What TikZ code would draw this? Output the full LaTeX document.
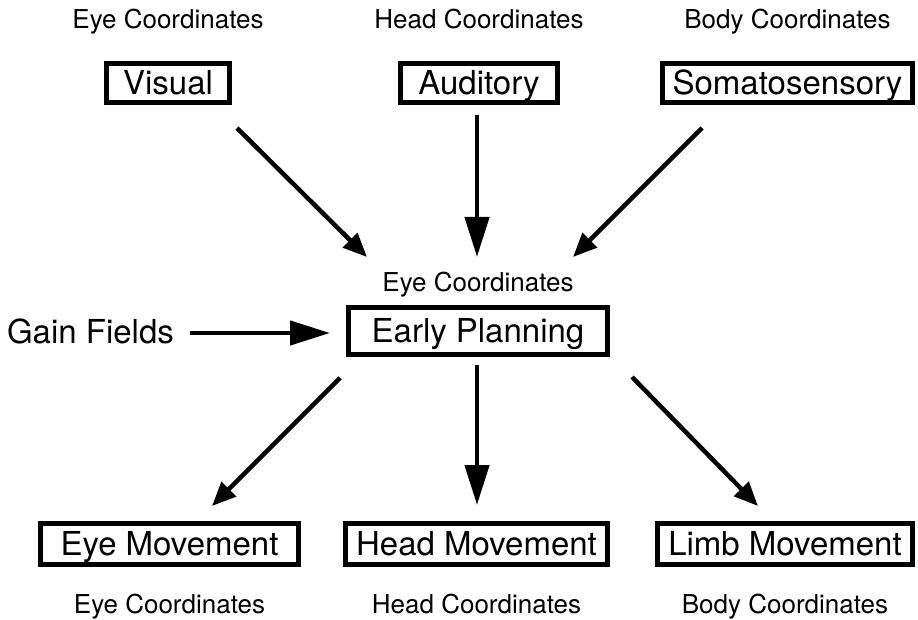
\documentclass[tikz,border=0pt]{standalone}
\usepackage{fontspec}
\setmainfont{TeX Gyre Heros}
\usetikzlibrary{arrows.meta,positioning,calc}

\begin{document}
\begin{tikzpicture}[x=1pt, y=-1pt,
  area/.style={draw, line width=5pt, inner sep=0pt, minimum height=39pt, align=center, font=\fontsize{33}{38}\selectfont, text height=23.5pt, text depth=0pt},
  coord/.style={inner sep=0pt, font=\fontsize{26}{31}\selectfont, text height=18.5pt, text depth=0pt},
  arr/.style={line width=4.5pt, -{Triangle[length=40pt,width=24pt]}},
  darr/.style={line width=4.5pt, -{Triangle[length=24pt,width=20pt]}}
]
\useasboundingbox (0,0) rectangle (918,620);

% sensory inputs
\node[area, minimum width=123pt] (visual) at (168,83) {Visual};
\node[area, minimum width=157pt] (auditory) at (479,83) {Auditory};
\node[area, minimum width=250pt] (somato) at (787.5,83) {Somatosensory};

\node[coord, above=32pt of visual] (visualcoord) {Eye Coordinates};
\node[coord, above=32pt of auditory] (auditorycoord) {Head Coordinates};
\node[coord, above=32pt of somato] (somatocoord) {Body Coordinates};

% planning stage
\node[area, minimum width=259pt, minimum height=47pt] (early) at (478,331) {Early Planning};
\node[coord, above=13pt of early] (earlycoord) {Eye Coordinates};
\node[area, draw=none, line width=0pt, anchor=west] (gain) at (7,332) {Gain Fields};

% motor outputs
\node[area, minimum width=258pt, minimum height=41pt] (eyemove) at (169.5,544) {Eye Movement};
\node[area, minimum width=262pt, minimum height=41pt] (headmove) at (476.5,544) {Head Movement};
\node[area, minimum width=255pt, minimum height=41pt] (limbmove) at (785,544) {Limb Movement};

\node[coord, below=28pt of eyemove] (eyemovecoord) {Eye Coordinates};
\node[coord, below=28pt of headmove] (headmovecoord) {Head Coordinates};
\node[coord, below=28pt of limbmove] (limbmovecoord) {Body Coordinates};

\draw[darr] ($(visual.south east)+(5,23)$) -- ($(early.north west)+(21,-48)$);
\draw[arr] ($(auditory.south)+(-2,10)$) -- ($(early.north)+(-1,-48)$);
\draw[darr] ($(somato.south west)+(42,23)$) -- ($(early.north east)+(-37,-48)$);
\draw[arr] ($(gain.east)+(16,1)$) -- ($(early.west)+(-16,2)$);
\draw[darr] ($(early.south west)+(-6,21)$) -- ($(eyemove.north)+(42.5,-15)$);
\draw[arr] ($(early.south)+(-1,8)$) -- ($(headmove.north)+(0.5,-16)$);
\draw[darr] ($(early.south east)+(22,20)$) -- ($(limbmove.north)+(-27,-15)$);
\end{tikzpicture}
\end{document}
